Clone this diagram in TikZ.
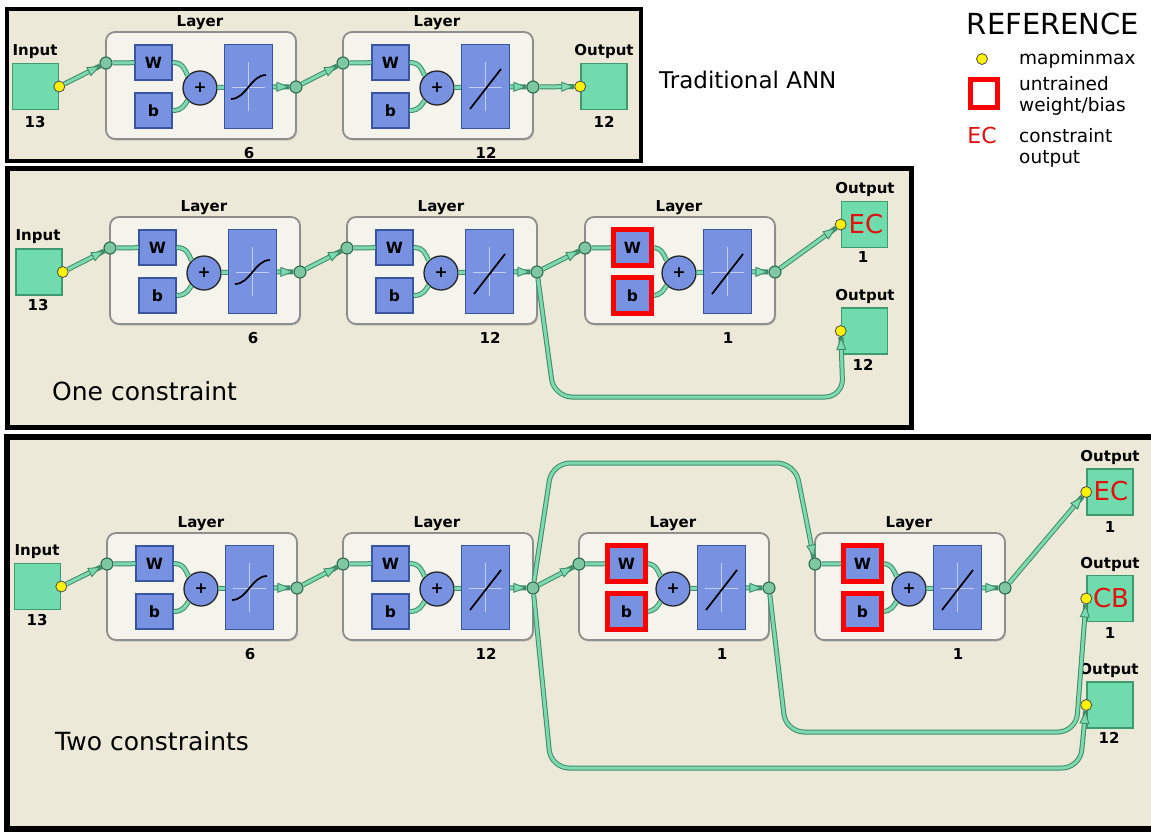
\documentclass[tikz,border=0pt]{standalone}
\usepackage{fontspec}
\setmainfont{DejaVu Sans}
\usetikzlibrary{arrows.meta,shadows}
\definecolor{beige}{HTML}{ECE9D8}
\definecolor{lfill}{HTML}{F4F3EC}
\definecolor{lborder}{HTML}{8E8E8E}
\definecolor{bfill}{HTML}{7891E0}
\definecolor{bborder}{HTML}{3A55A0}
\definecolor{gfill}{HTML}{70DCAE}
\definecolor{gborder}{HTML}{3F9A72}
\definecolor{cl}{HTML}{7FD9B0}
\definecolor{cd}{HTML}{3E8C68}
\definecolor{jfill}{HTML}{7FC7A3}
\definecolor{jborder}{HTML}{2D6A4E}
\definecolor{ecred}{HTML}{E01010}
\tikzset{
 px/.style={x=1pt,y=-1pt},
 panel/.style={draw=black, fill=beige},
 layerbox/.style={draw=lborder, fill=lfill, line width=1.8pt, rounded corners=9pt, minimum width=190pt, minimum height=107pt, inner sep=0pt, drop shadow={shadow xshift=1pt,shadow yshift=-1.5pt,opacity=0.35}},
 wbbox/.style={draw=bborder, fill=bfill, line width=1.4pt, minimum width=37pt, minimum height=35pt, inner sep=0pt, font=\fontsize{15.5}{16}\selectfont\bfseries},
 tfbox/.style={draw=bborder, fill=bfill, line width=1.4pt, minimum width=48pt, minimum height=84pt, inner sep=0pt},
 sumnode/.style={circle, draw=black!85, fill=bfill, line width=1.3pt, minimum size=34pt, inner sep=0pt, font=\fontsize{15.5}{16}\selectfont\bfseries},
 jdot/.style={circle, draw=jborder, fill=jfill, line width=1.1pt, minimum size=12pt, inner sep=0pt},
 ydot/.style={circle, draw=black!70, fill=yellow, line width=0.8pt, minimum size=11pt, inner sep=0pt},
 iobox/.style={draw=gborder, fill=gfill, line width=1.6pt, minimum size=46pt, inner sep=0pt},
 blbl/.style={font=\fontsize{15}{15}\selectfont\bfseries, inner sep=0pt},
 conn/.style={draw=cl, line width=3pt, line join=round, preaction={draw=cd, line width=5pt, arrows=-}},
 tip/.style={-{Triangle[length=13pt,width=10pt,line width=0.9pt,fill=cl,color=cd]}},
 route/.style={conn, rounded corners=18pt},
 redbox/.style={draw=red, line width=5pt},
 bigtxt/.style={font=\fontsize{25}{25}\selectfont, inner sep=0pt, anchor=base west},
 ectxt/.style={text=ecred, font=\fontsize{26}{26}\selectfont, inner sep=0pt},
 legtxt/.style={font=\fontsize{18.5}{19}\selectfont, inner sep=0pt, anchor=base west},
}
\newcommand{\annlayer}[6]{%
\begin{scope}[shift={(#2,#3)}]
 \node[layerbox] (#1) at (95,53.5) {};
 \node[blbl, anchor=base] (#1-t) at (94,-5.5) {Layer};
 \node[blbl] (#1-n) at (143,121) {#4};
 \node[wbbox] (#1-W) at (47.5,30.5) {W};
 \node[wbbox] (#1-b) at (47.5,78.5) {b};
 \node[sumnode] (#1-s) at (94,56) {+};
 \node[tfbox] (#1-f) at (142.5,54.5) {};
 \draw[white!55!bfill, line width=0.8pt] (126,55) -- (159,55) (142.5,30) -- (142.5,79);
 \ifnum#5=1
  \draw[black, line width=1.7pt] (125,67) .. controls (140,67) and (145,43) .. (160,43);
 \else
  \draw[black, line width=1.7pt] (127,77) -- (158,37);
 \fi
 \node[jdot] (#1-in) at (0,31) {};
 \node[jdot] (#1-out) at (190,55) {};
 \draw[conn] (#1-in) -- (#1-W);
 \draw[conn] (#1-W.east) .. controls (77,30.5) and (79,38) .. (#1-s.135);
 \draw[conn] (#1-b.east) .. controls (77,78.5) and (79,72) .. (#1-s.225);
 \draw[conn] (#1-s) -- (#1-f);
 \draw[conn,tip] (#1-f) -- (#1-out);
 \ifnum#6=1
  \draw[redbox] (#1-W.north west) rectangle (#1-W.south east);
  \draw[redbox] (#1-b.north west) rectangle (#1-b.south east);
 \fi
\end{scope}}
\begin{document}
\begin{tikzpicture}[px]
\useasboundingbox (0,0) rectangle (1151,831);
\fill[white] (0,0) rectangle (1151,831);
% panels
\draw[panel, line width=4pt] (7,9) rectangle (641,161);
\draw[panel, line width=5pt] (7,168) rectangle (911,427);
\draw[panel, line width=6pt] (7,437) rectangle (1165,829);

% ---------- Panel 1 : Traditional ANN ----------
\node[iobox] (a-in) at (35.5,86.5) {};
\node[blbl, anchor=base] (a-inl) at (35,55) {Input};
\node[blbl] (a-inn) at (35,122) {13};
\node[ydot] (a-iny) at (a-in.east) {};
\annlayer{a1}{106}{32}{6}{1}{0}
\annlayer{a2}{343}{32}{12}{0}{0}
\node[iobox] (a-out) at (604,86.5) {};
\node[blbl, anchor=base] (a-outl) at (604,55.5) {Output};
\node[blbl] (a-outn) at (604,122) {12};
\node[ydot] (a-outy) at (a-out.west) {};
\draw[conn,tip] (a-iny) -- (a1-in);
\draw[conn,tip] (a1-out) -- (a2-in);
\draw[conn,tip] (a2-out) -- (a-outy);
\node[font=\fontsize{23}{23}\selectfont, inner sep=0pt, anchor=base west] (a-title) at (659,88) {Traditional ANN};

% ---------- Legend ----------
\node[font=\fontsize{29}{29}\selectfont, inner sep=0pt, anchor=base] (ref) at (1053,34) {REFERENCE};
\node[ydot] (lg-y) at (982,59) {};
\node[legtxt] (lg-yt) at (1019,64) {mapminmax};
\draw[redbox] (970.5,79.5) rectangle (997.5,107.5);
\node[legtxt] (lg-rt1) at (1019,90) {untrained};
\node[legtxt] (lg-rt2) at (1019,111) {weight/bias};
\node[text=ecred, font=\fontsize{22}{22}\selectfont, inner sep=0pt, anchor=base] (lg-ec) at (982,143) {EC};
\node[legtxt] (lg-et1) at (1019,142) {constraint};
\node[legtxt] (lg-et2) at (1019,163) {output};

% ---------- Panel 2 : One constraint ----------
\node[iobox] (b-in) at (39,272) {};
\node[blbl, anchor=base] (b-inl) at (38,240) {Input};
\node[blbl] (b-inn) at (38,305) {13};
\node[ydot] (b-iny) at (b-in.east) {};
\annlayer{b1}{110}{217}{6}{1}{0}
\annlayer{b2}{347}{217}{12}{0}{0}
\annlayer{b3}{585}{217}{1}{0}{1}
\node[iobox] (b-ec) at (864.5,224.5) {};
\node[blbl, anchor=base] (b-ecl) at (865,193) {Output};
\node[blbl] (b-ecn) at (863,257) {1};
\node[ectxt] (b-ect) at (866,224) {EC};
\node[ydot] (b-ecy) at (b-ec.west) {};
\node[iobox] (b-o12) at (864.5,331) {};
\node[blbl, anchor=base] (b-o12l) at (865,300) {Output};
\node[blbl] (b-o12n) at (863,365) {12};
\node[ydot] (b-o12y) at (b-o12.west) {};
\draw[conn,tip] (b-iny) -- (b1-in);
\draw[conn,tip] (b1-out) -- (b2-in);
\draw[conn,tip] (b2-out) -- (b3-in);
\draw[conn,tip] (b3-out) -- (b-ecy);
\draw[route,tip] (b2-out) -- (554,397) -- (843,397) -- (b-o12y);
\node[bigtxt] (b-title) at (52,400) {One constraint};

% ---------- Panel 3 : Two constraints ----------
\node[iobox] (c-in) at (37.5,586.5) {};
\node[blbl, anchor=base] (c-inl) at (37,555) {Input};
\node[blbl] (c-inn) at (37,620) {13};
\node[ydot] (c-iny) at (c-in.east) {};
\annlayer{c1}{107}{533}{6}{1}{0}
\annlayer{c2}{343}{533}{12}{0}{0}
\annlayer{c3}{579}{533}{1}{0}{1}
\annlayer{c4}{815}{533}{1}{0}{1}
\node[iobox] (c-ec) at (1110,492) {};
\node[blbl, anchor=base] (c-ecl) at (1110,461) {Output};
\node[blbl] (c-ecn) at (1110,527) {1};
\node[ectxt] (c-ect) at (1111,491) {EC};
\node[ydot] (c-ecy) at (c-ec.west) {};
\node[iobox] (c-cb) at (1110,598.5) {};
\node[blbl, anchor=base] (c-cbl) at (1110,568) {Output};
\node[blbl] (c-cbn) at (1110,633) {1};
\node[ectxt] (c-cbt) at (1111,598) {CB};
\node[ydot] (c-cby) at (c-cb.west) {};
\node[iobox] (c-o12) at (1110,705) {};
\node[blbl, anchor=base] (c-o12l) at (1109,674) {Output};
\node[blbl] (c-o12n) at (1109,738) {12};
\node[ydot] (c-o12y) at (c-o12.west) {};
\draw[conn,tip] (c-iny) -- (c1-in);
\draw[conn,tip] (c1-out) -- (c2-in);
\draw[conn,tip] (c2-out) -- (c3-in);
\draw[conn,tip] (c4-out) -- (c-ecy);
\draw[route,tip] (c2-out) -- (552,463) -- (795,463) -- (c4-in);
\draw[route,tip] (c2-out) -- (551,768) -- (1080,768) -- (c-o12y);
\draw[route,tip] (c3-out) -- (786,732) -- (1076,732) -- (c-cby);
\node[bigtxt] (c-title) at (55,750) {Two constraints};
\end{tikzpicture}
\end{document}
